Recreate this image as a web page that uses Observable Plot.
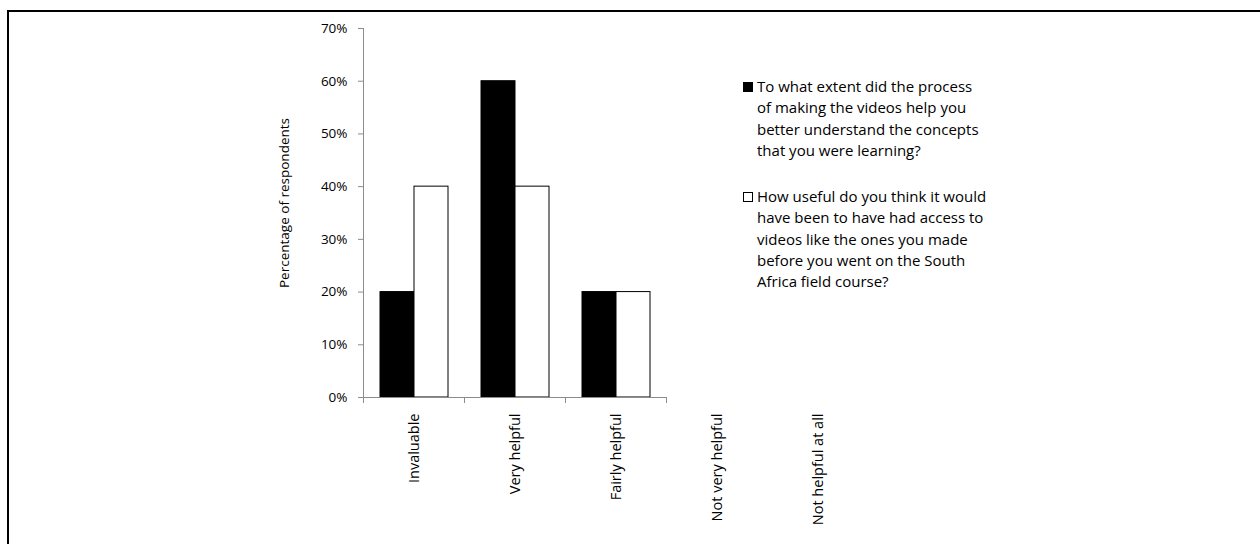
<!DOCTYPE html>
<html><head><meta charset="utf-8">
<script src="https://cdn.jsdelivr.net/npm/d3@7"></script>
<script src="https://cdn.jsdelivr.net/npm/@observablehq/plot@0.6"></script>
<style>
body{margin:0;background:#fff;font-family:"Open Sans", sans-serif;}
#wrap{position:relative;width:1260px;height:544px;overflow:hidden}
#wrap svg{position:absolute;left:0;top:0}
#border{position:absolute;left:7px;top:10px;width:2000px;height:2000px;border-left:2px solid #000;border-top:2px solid #000;pointer-events:none}
.leg{position:absolute;left:743px;font-size:15px;line-height:21.3px;color:#000}
.sw{position:absolute;left:0;top:6px;width:10px;height:10px;box-sizing:border-box;border:1px solid #000}
.txt{margin-left:14px;white-space:nowrap}
</style></head><body><div id="wrap"><div id="border"></div></div>
<script>
const categories = ["Invaluable", "Very helpful", "Fairly helpful", "Not very helpful", "Not helpful at all"];
const series = [
  "To what extent did the process of making the videos help you better understand the concepts that you were learning?",
  "How useful do you think it would have been to have had access to videos like the ones you made before you went on the South Africa field course?"
];
const legendLines = [
  ["To what extent did the process", "of making the videos help you", "better understand the concepts", "that you were learning?"],
  ["How useful do you think it would", "have been to have had access to", "videos like the ones you made", "before you went on the South", "Africa field course?"]
];
const yLabel = "Percentage of respondents";
const valuesProcess = [0.2, 0.6, 0.2, 0, 0];
const valuesAccess = [0.4, 0.4, 0.2, 0, 0];
const yTicks = [0, 0.1, 0.2, 0.3, 0.4, 0.5, 0.6, 0.7];
const seriesColors = ["#000", "#fff"];

const data = [];
categories.forEach((c, i) => {
  data.push({category: c, series: series[0], value: valuesProcess[i]});
  data.push({category: c, series: series[1], value: valuesAccess[i]});
});
const barData = data.filter(d => d.value > 0);

const W = 1260, H = 544, mL = 362, mT = 28, mB = 147, mR = 392;
const innerH = H - mT - mB;
const axisGray = "#8c8c8c";

const chart = Plot.plot({
  width: W, height: H,
  marginLeft: mL, marginTop: mT, marginBottom: mB, marginRight: mR,
  style: {fontFamily: "'Open Sans', sans-serif", fontSize: "13px", color: "#000", background: "transparent", overflow: "visible"},
  fx: {domain: categories, paddingInner: 0, paddingOuter: 0, label: null},
  x: {domain: series, axis: null, paddingInner: 0, paddingOuter: 0.45},
  y: {domain: [0, 0.7], label: null},
  color: {domain: series, range: seriesColors},
  marks: [
    Plot.barY(barData, {fx: "category", x: "series", y: "value", fill: "series", stroke: "#000", strokeWidth: 1}),
    Plot.ruleY([0], {stroke: axisGray}),
    Plot.frame({anchor: "left", stroke: axisGray, facetAnchor: "left", insetBottom: -5}),
    Plot.frame({anchor: "right", stroke: axisGray, insetTop: innerH, insetBottom: -5}),
    Plot.axisY({ticks: yTicks, tickFormat: d3.format(".0%"), tickSize: 5, tickPadding: 11, stroke: axisGray, fill: "#000",
      fontSize: 13.5, label: null}),
    Plot.text([yLabel], {text: d => d, frameAnchor: "left", textAnchor: "middle", rotate: -90, dx: -79, dy: -10, fontSize: 13.5, facetAnchor: "left", fill: "#000"}),
    Plot.axisFx({anchor: "bottom", tickRotate: -90, tickSize: 0, tickPadding: 16, label: null, fill: "#000", fontSize: 14.5})
  ]
});
const wrap = document.getElementById("wrap");
wrap.insertBefore(chart, wrap.firstChild);

const tops = [76.2, 186.2];
legendLines.forEach((lines, i) => {
  const item = document.createElement("div");
  item.className = "leg";
  item.style.top = tops[i] + "px";
  const sw = document.createElement("div");
  sw.className = "sw";
  sw.style.background = seriesColors[i];
  item.appendChild(sw);
  const txt = document.createElement("div");
  txt.className = "txt";
  lines.forEach((l, j) => {
    if (j) txt.appendChild(document.createElement("br"));
    txt.appendChild(document.createTextNode(l));
  });
  item.appendChild(txt);
  wrap.appendChild(item);
});
</script>
</body></html>
